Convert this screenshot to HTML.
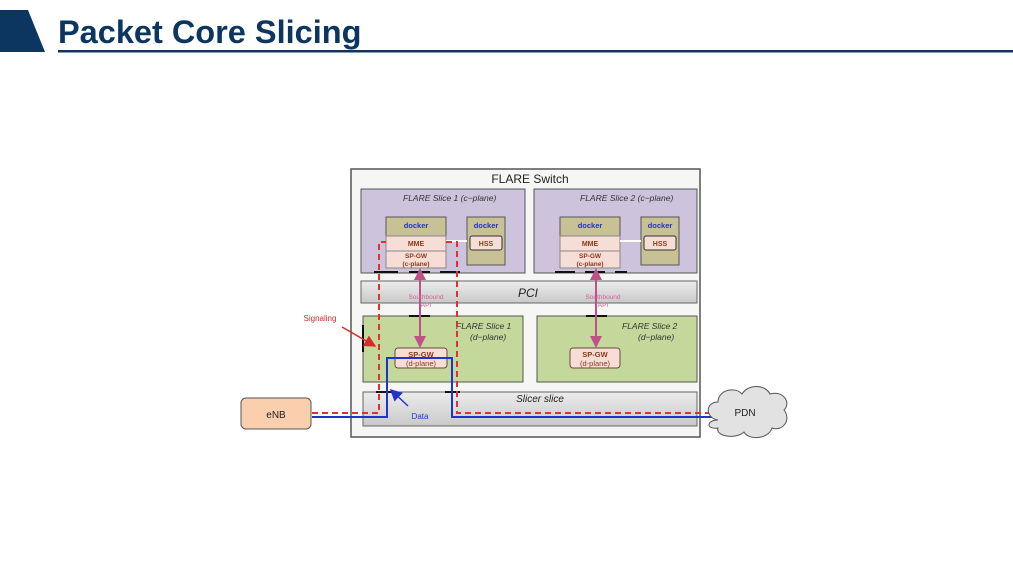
<!DOCTYPE html>
<html><head><meta charset="utf-8"><style>
body{margin:0;width:1013px;height:570px;background:#fff;overflow:hidden;font-family:"Liberation Sans",sans-serif}
</style></head><body>
<svg width="1013" height="570" viewBox="0 0 1013 570" xmlns="http://www.w3.org/2000/svg" font-family="Liberation Sans, sans-serif">
<defs>
<linearGradient id="g" x1="0" y1="0" x2="0" y2="1"><stop offset="0" stop-color="#ececec"/><stop offset="1" stop-color="#c9c9c9"/></linearGradient>
<marker id="a" markerWidth="6" markerHeight="6" refX="5" refY="3" orient="auto"><path d="M0,0L6,3L0,6z" fill="#c0508a"/></marker>
<marker id="ar" markerWidth="8" markerHeight="8" refX="7" refY="4" orient="auto"><path d="M0,0L8,4L0,8z" fill="#d52b2b"/></marker>
<marker id="ab" markerWidth="8" markerHeight="8" refX="7" refY="4" orient="auto"><path d="M0,0L8,4L0,8z" fill="#2233cc"/></marker>
</defs>
<polygon points="0,10 28,10 45,52 0,52" fill="#0c3660"/>
<text x="58" y="43" font-size="32.5" font-weight="bold" fill="#0c3660">Packet Core Slicing</text>
<rect x="58" y="50" width="955" height="2.5" fill="#0c3660"/>

<rect x="351" y="169" width="349" height="268" fill="#f6f6f4" stroke="#555" stroke-width="1.5"/>
<text x="530" y="183" font-size="12" text-anchor="middle" fill="#222">FLARE Switch</text>
<rect x="361" y="189" width="164" height="84" fill="#cdc3dd" stroke="#555"/>
<rect x="534" y="189" width="163" height="84" fill="#cdc3dd" stroke="#555"/>
<rect x="363" y="316" width="160" height="66" fill="#c4d89c" stroke="#555"/>
<rect x="537" y="316" width="160" height="66" fill="#c4d89c" stroke="#555"/>
<g font-size="8.5" font-style="italic" fill="#333">
<text x="403" y="201">FLARE Slice 1 (c−plane)</text>
<text x="580" y="201">FLARE Slice 2 (c−plane)</text>
<text x="456" y="329">FLARE Slice 1</text><text x="470" y="340">(d−plane)</text>
<text x="622" y="329">FLARE Slice 2</text><text x="638" y="340">(d−plane)</text>
</g>
<g font-size="7.5" font-weight="bold" text-anchor="middle">
<rect x="386" y="217" width="60" height="50" fill="#c9c196" stroke="#555"/>
<text x="416" y="228" fill="#2233cc">docker</text>
<rect x="386" y="236" width="60" height="15" fill="#f6ddd6" stroke="#888"/>
<text x="416" y="246" fill="#8a3a1a" font-size="7">MME</text>
<rect x="386" y="251" width="60" height="17" fill="#f6ddd6" stroke="#888"/>
<text x="416" y="258" fill="#8a3a1a" font-size="6.5">SP-GW</text><text x="416" y="266" fill="#8a3a1a" font-size="6.5">(c-plane)</text>
<rect x="467" y="217" width="38" height="48" fill="#c9c196" stroke="#555"/>
<text x="486" y="228" fill="#2233cc">docker</text>
<rect x="470" y="236" width="32" height="14" fill="#f6ddd6" stroke="#333" rx="2"/>
<text x="486" y="246" fill="#8a3a1a" font-size="7">HSS</text>
<line x1="446" y1="241" x2="467" y2="241" stroke="#fff" stroke-width="2"/>

<rect x="560" y="217" width="60" height="50" fill="#c9c196" stroke="#555"/>
<text x="590" y="228" fill="#2233cc">docker</text>
<rect x="560" y="236" width="60" height="15" fill="#f6ddd6" stroke="#888"/>
<text x="590" y="246" fill="#8a3a1a" font-size="7">MME</text>
<rect x="560" y="251" width="60" height="17" fill="#f6ddd6" stroke="#888"/>
<text x="590" y="258" fill="#8a3a1a" font-size="6.5">SP-GW</text><text x="590" y="266" fill="#8a3a1a" font-size="6.5">(c-plane)</text>
<rect x="641" y="217" width="38" height="48" fill="#c9c196" stroke="#555"/>
<text x="660" y="228" fill="#2233cc">docker</text>
<rect x="644" y="236" width="32" height="14" fill="#f6ddd6" stroke="#333" rx="2"/>
<text x="660" y="246" fill="#8a3a1a" font-size="7">HSS</text>
<line x1="620" y1="241" x2="641" y2="241" stroke="#fff" stroke-width="2"/>
</g>
<rect x="361" y="281" width="336" height="22" fill="url(#g)" stroke="#666"/>
<text x="528" y="297" font-size="12" font-style="italic" text-anchor="middle" fill="#222">PCI</text>
<rect x="363" y="392" width="334" height="34" fill="url(#g)" stroke="#666"/>
<text x="540" y="402" font-size="10" font-style="italic" text-anchor="middle" fill="#222">Slicer slice</text>
<g stroke="#111" stroke-width="2">
<line x1="374" y1="272" x2="398" y2="272"/><line x1="409" y1="272" x2="430" y2="272"/><line x1="440" y1="272" x2="460" y2="272"/>
<line x1="555" y1="272" x2="575" y2="272"/><line x1="585" y1="272" x2="605" y2="272"/><line x1="615" y1="272" x2="627" y2="272"/>
<line x1="409" y1="316" x2="430" y2="316"/><line x1="586" y1="316" x2="607" y2="316"/>
<line x1="363" y1="325" x2="363" y2="352"/>
<line x1="376" y1="392" x2="395" y2="392"/><line x1="445" y1="392" x2="460" y2="392"/>
</g>
<g font-size="7.5" font-weight="bold" text-anchor="middle" fill="#8a3a1a">
<rect x="395" y="348" width="52" height="20" rx="3" fill="#f6ddd6" stroke="#6a4a3a"/>
<text x="421" y="357">SP-GW</text><text x="421" y="366" font-weight="normal">(d-plane)</text>
<rect x="570" y="348" width="50" height="20" rx="3" fill="#f6ddd6" stroke="#6a4a3a"/>
<text x="595" y="357">SP-GW</text><text x="595" y="366" font-weight="normal">(d-plane)</text>
</g>
<g stroke="#c0508a" stroke-width="2">
<line x1="420" y1="292" x2="420" y2="346" marker-end="url(#a)"/><line x1="420" y1="292" x2="420" y2="270" marker-end="url(#a)"/>
<line x1="596" y1="292" x2="596" y2="346" marker-end="url(#a)"/><line x1="596" y1="292" x2="596" y2="270" marker-end="url(#a)"/>
</g>
<g font-size="6.5" fill="#d2609a" text-anchor="middle"><text x="426" y="299">Southbound</text><text x="426" y="307">API</text><text x="603" y="299">Southbound</text><text x="603" y="307">API</text></g>
<path d="M312,417 H387 V358 H452 V417 H712" fill="none" stroke="#2233cc" stroke-width="2"/>
<path d="M312,413 H379 V242 H386 M446,242 H457 V413 H712" fill="none" stroke="#e03030" stroke-width="2" stroke-dasharray="6,4"/>
<text x="320" y="321" font-size="8" fill="#d52b2b" text-anchor="middle">Signaling</text>
<line x1="342" y1="327" x2="375" y2="346" stroke="#d52b2b" stroke-width="1.5" marker-end="url(#ar)"/>
<text x="420" y="419" font-size="8" fill="#2233cc" text-anchor="middle">Data</text>
<line x1="408" y1="406" x2="391" y2="390" stroke="#2233cc" stroke-width="1.5" marker-end="url(#ab)"/>
<rect x="241" y="398" width="70" height="31" rx="5" fill="#f9cfae" stroke="#555"/>
<text x="276" y="418" font-size="10" text-anchor="middle" fill="#222">eNB</text>
<path d="M718,420 C705,418 705,402 718,402 C718,390 735,386 742,394 C748,384 765,384 770,394 C782,390 792,402 784,410 C792,420 782,432 772,428 C768,440 748,440 744,432 C735,440 715,436 718,428 C706,430 706,420 718,420Z" fill="#e2e2e2" stroke="#555"/>
<text x="745" y="416" font-size="10" text-anchor="middle" fill="#222">PDN</text>
</svg>
</body></html>
